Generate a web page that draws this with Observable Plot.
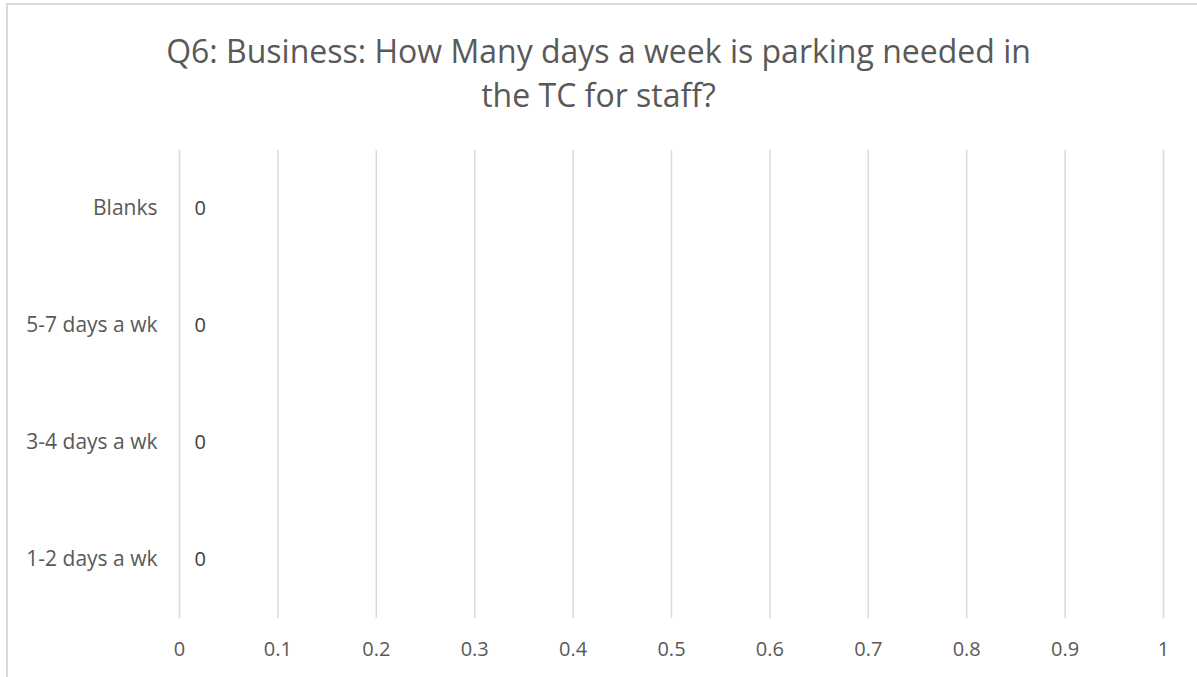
<!DOCTYPE html>
<html>
<head>
<meta charset="utf-8">
<script src="https://cdn.jsdelivr.net/npm/d3@7"></script>
<script src="https://cdn.jsdelivr.net/npm/@observablehq/plot@0.6"></script>
<style>
  html, body { margin: 0; padding: 0; background: #fff; }
  #wrap { position: relative; width: 1197px; height: 677px; overflow: hidden; font-family: "Open Sans", sans-serif; }
  #frame { position: absolute; left: 6px; top: 3px; width: 1250px; height: 760px; border: 2px solid #d9d9d9; box-sizing: border-box; }
  #title { position: absolute; left: 0; top: 29px; width: 1197px; text-align: center; color: #595959; font-size: 32px; line-height: 44px; font-weight: 400; margin: 0; }
  #chart { position: absolute; left: 0; top: 140px; }
</style>
</head>
<body>
<div id="wrap">
  <div id="frame"></div>
  <div id="title">Q6: Business: How Many days a week is parking needed in<br>the TC for staff?</div>
  <div id="chart"></div>
</div>
<script>
const categories = ["Blanks", "5-7 days a wk", "3-4 days a wk", "1-2 days a wk"];
const values = [0, 0, 0, 0];
const xTicks = [0, 0.1, 0.2, 0.3, 0.4, 0.5, 0.6, 0.7, 0.8, 0.9, 1];
const xTickLabels = ["0", "0.1", "0.2", "0.3", "0.4", "0.5", "0.6", "0.7", "0.8", "0.9", "1"];

const data = categories.map((c, i) => ({category: c, value: values[i]}));

const chart = Plot.plot({
  width: 1197,
  height: 530,
  marginLeft: 179,
  marginRight: 34,
  marginTop: 10,
  marginBottom: 52,
  style: {fontFamily: "Open Sans, sans-serif", fontSize: "20px", color: "#595959", background: "transparent", overflow: "visible"},
  x: {domain: [0, 1], axis: null, label: null},
  y: {domain: categories, axis: null, label: null, paddingInner: 0.4, paddingOuter: 0.2},
  marks: [
    Plot.gridX(xTicks, {stroke: "#d9d9d9", strokeWidth: 1.5, strokeOpacity: 1}),
    Plot.axisX(xTicks, {tickSize: 0, tickPadding: 23, fontSize: 20, fill: "#595959", label: null,
      tickFormat: d => xTickLabels[xTicks.indexOf(d)]}),
    Plot.axisY({tickSize: 0, tickPadding: 22, fontSize: 21, fill: "#595959", label: null}),
    Plot.barX(data, {x: "value", y: "category", fill: "#4472C4"}),
    Plot.text(data, {x: "value", y: "category", text: d => String(d.value), dx: 15, textAnchor: "start", fontSize: 20, fill: "#404040"})
  ]
});
document.getElementById("chart").appendChild(chart);
</script>
</body>
</html>
